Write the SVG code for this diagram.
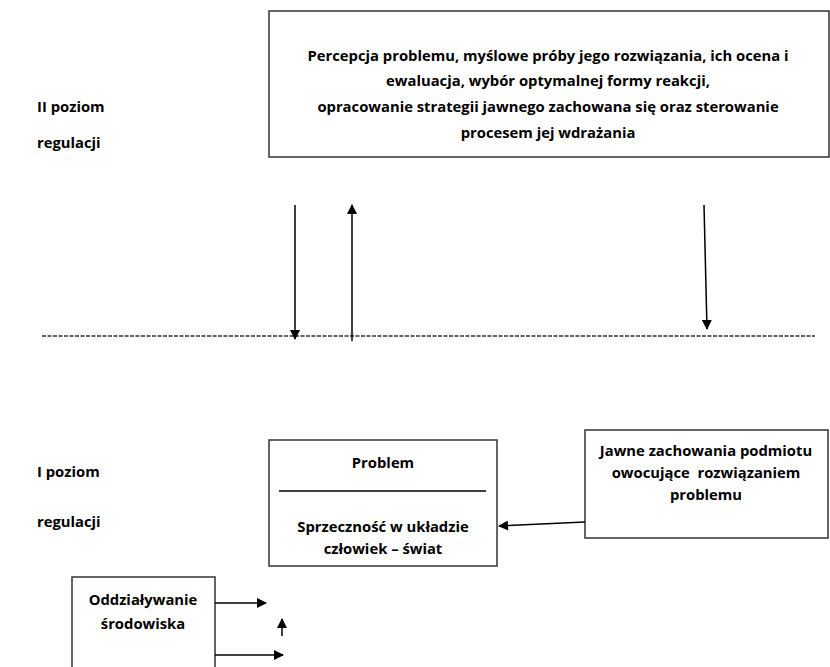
<svg xmlns="http://www.w3.org/2000/svg" width="830" height="667" viewBox="0 0 830 667">
<style>
.t{font-family:"Open Sans",Lato,"DejaVu Sans",sans-serif;font-weight:bold;font-size:14.8px;fill:#000}
.c{text-anchor:middle}
.box{fill:#fff;stroke:#333;stroke-width:1.5}
.ln{stroke:#000;stroke-width:1.5;fill:none}
</style>
<defs>
<marker id="ah" viewBox="0 0 10 10" refX="9" refY="5" markerWidth="11" markerHeight="10" markerUnits="userSpaceOnUse" orient="auto">
<path d="M0,0 L10,5 L0,10 z" fill="#000"/>
</marker>
</defs>
<rect width="830" height="667" fill="#fff"/>
<g id="labels">
<text class="t" x="37" y="112">II poziom</text>
<text class="t" x="37" y="148">regulacji</text>
<text class="t" x="37" y="477">I poziom</text>
<text class="t" x="37" y="527">regulacji</text>
</g>
<g id="node-level2">
<rect class="box" x="269" y="11" width="560" height="146"/>
<text class="t c" x="548" y="61">Percepcja problemu, myślowe próby jego rozwiązania, ich ocena i</text>
<text class="t c" x="548" y="86">ewaluacja, wybór optymalnej formy reakcji,</text>
<text class="t c" x="548" y="112">opracowanie strategii jawnego zachowana się oraz sterowanie</text>
<text class="t c" x="548" y="138">procesem jej wdrażania</text>
</g>
<g id="node-problem">
<rect class="box" x="269" y="440" width="228" height="126"/>
<text class="t c" x="383" y="468">Problem</text>
<line x1="279" y1="491" x2="486" y2="491" stroke="#000" stroke-width="1.5"/>
<text class="t c" x="383" y="532">Sprzeczność w układzie</text>
<text class="t c" x="383" y="554">człowiek – świat</text>
</g>
<g id="node-jawne">
<rect class="box" x="585" y="430" width="243" height="108"/>
<text class="t c" x="706" y="456">Jawne zachowania podmiotu</text>
<text class="t c" x="706" y="478" xml:space="preserve">owocujące  rozwiązaniem</text>
<text class="t c" x="706" y="500">problemu</text>
</g>
<g id="node-srodowisko">
<rect class="box" x="72" y="577" width="143" height="100"/>
<text class="t c" x="143" y="605">Oddziaływanie</text>
<text class="t c" x="143" y="629">środowiska</text>
</g>
<g id="connectors">
<line x1="42" y1="336" x2="815" y2="336" stroke="#333" stroke-width="1.3" stroke-dasharray="4,1.5"/>
<line class="ln" x1="295" y1="205" x2="295" y2="339" marker-end="url(#ah)"/>
<line class="ln" x1="352" y1="341" x2="352" y2="205" marker-end="url(#ah)"/>
<line class="ln" x1="704" y1="205" x2="707" y2="329" marker-end="url(#ah)"/>
<line class="ln" x1="585" y1="522" x2="499" y2="526" marker-end="url(#ah)"/>
<line class="ln" x1="215" y1="603" x2="266" y2="603" marker-end="url(#ah)"/>
<line class="ln" x1="215" y1="655" x2="283" y2="655" marker-end="url(#ah)"/>
<line class="ln" x1="282" y1="636" x2="282" y2="619" marker-end="url(#ah)"/>
</g>
</svg>
